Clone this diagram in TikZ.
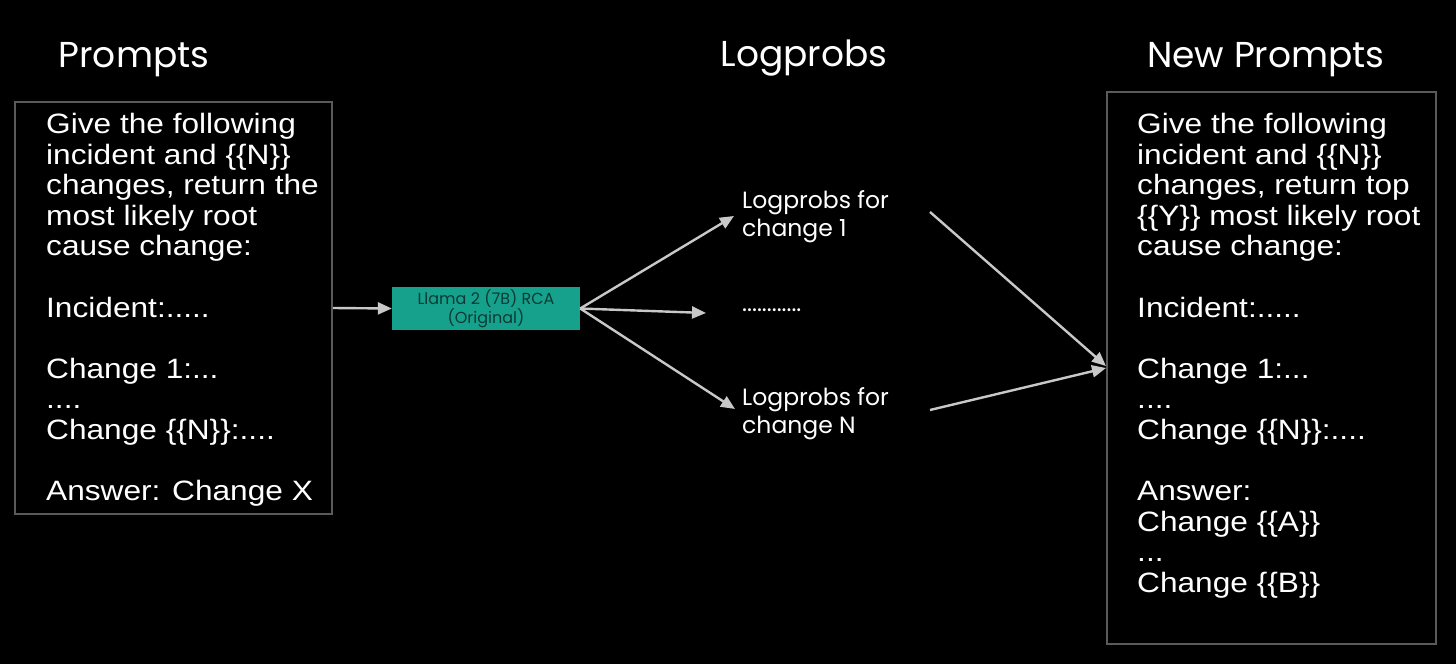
\documentclass[tikz,border=0pt]{standalone}
\usepackage{fontspec}
\setmainfont{Liberation Sans}
\newfontfamily\bodyfont[FakeStretch=1.13]{Liberation Sans}
\newfontfamily\headfont{Poppins}
\usetikzlibrary{arrows.meta}
\definecolor{boxgray}{HTML}{5A5A5A}
\definecolor{arrowgray}{HTML}{C8C8C8}
\definecolor{llamateal}{HTML}{16A18D}
\definecolor{llamatext}{HTML}{0B3B34}
\tikzset{
  panel/.style={draw=boxgray, line width=2pt, inner sep=0pt},
  bodytext/.style={text=white, align=left, inner sep=0pt, anchor=north west,
    font=\bodyfont\fontsize{28}{30.6}\selectfont},
  heading/.style={text=white, inner sep=0pt, anchor=base, font=\headfont\fontsize{36}{40}\selectfont},
  lplabel/.style={text=white, align=left, inner sep=0pt, anchor=north west,
    font=\headfont\fontsize{23.5}{27.5}\selectfont},
  conn/.style={draw=arrowgray, line width=2.4pt, -{Triangle[length=14pt,width=12pt]}},
  model/.style={fill=llamateal, inner sep=0pt, minimum width=188pt, minimum height=43pt,
    text=llamatext, align=center, font=\headfont\fontsize{16}{17}\selectfont}
}
\begin{document}
\begin{tikzpicture}[x=1pt,y=-1pt]
\fill[black] (0,0) rectangle (1456,664);
\useasboundingbox (0,0) rectangle (1456,664);

% headings
\node[heading] (h1) at (134,67) {Prompts};
\node[heading] (h2) at (804,66) {Logprobs};
\node[heading] (h3) at (1266,67) {New Prompts};

% left box
\node[panel, minimum width=317pt, minimum height=412pt] (left) at (173.5,308) {};
\node[bodytext] (lefttext) at (46,113) {Give the following\\incident and \{\{N\}\}\\changes, return the\\most likely root\\cause change:\\[30.6pt]Incident:.....\\[30.6pt]Change 1:...\\....\\Change \{\{N\}\}:....\\[30.6pt]Answer: Change X};

% right box
\node[panel, minimum width=329pt, minimum height=552pt] (right) at (1271.5,368) {};
\node[bodytext] (righttext) at (1137,113) {Give the following\\incident and \{\{N\}\}\\changes, return top\\\{\{Y\}\} most likely root\\cause change:\\[30.6pt]Incident:.....\\[30.6pt]Change 1:...\\....\\Change \{\{N\}\}:....\\[30.6pt]Answer:\\Change \{\{A\}\}\\...\\Change \{\{B\}\}};

% model box
\node[model] (llama) at (486,308.5) {Llama 2 (7B) RCA\\(Original)};

% logprob labels
\node[lplabel] (lp1) at (742,190.5) {Logprobs for\\change 1};
\node[lplabel, anchor=base west] (lpdots) at (742,311) {............};
\node[lplabel] (lpn) at (742,387.5) {Logprobs for\\change N};

% coordinates
\coordinate (lp1in) at (734,216);
\coordinate (dotin) at (706,313);
\coordinate (lpnin) at (735,409);
\coordinate (lp1out) at (930,212);
\coordinate (lpnout) at (930,410);
\coordinate (rin1) at (1106,366);
\coordinate (rin2) at (1106,368);

% connectors
\draw[conn] (left.east |- 0,308) -- (llama.west);
\draw[conn] (llama.east) -- (lp1in);
\draw[conn] (llama.east) -- (dotin);
\draw[conn] (llama.east) -- (lpnin);
\draw[conn] (lp1out) -- (rin1);
\draw[conn] (lpnout) -- (rin2);
\end{tikzpicture}
\end{document}
